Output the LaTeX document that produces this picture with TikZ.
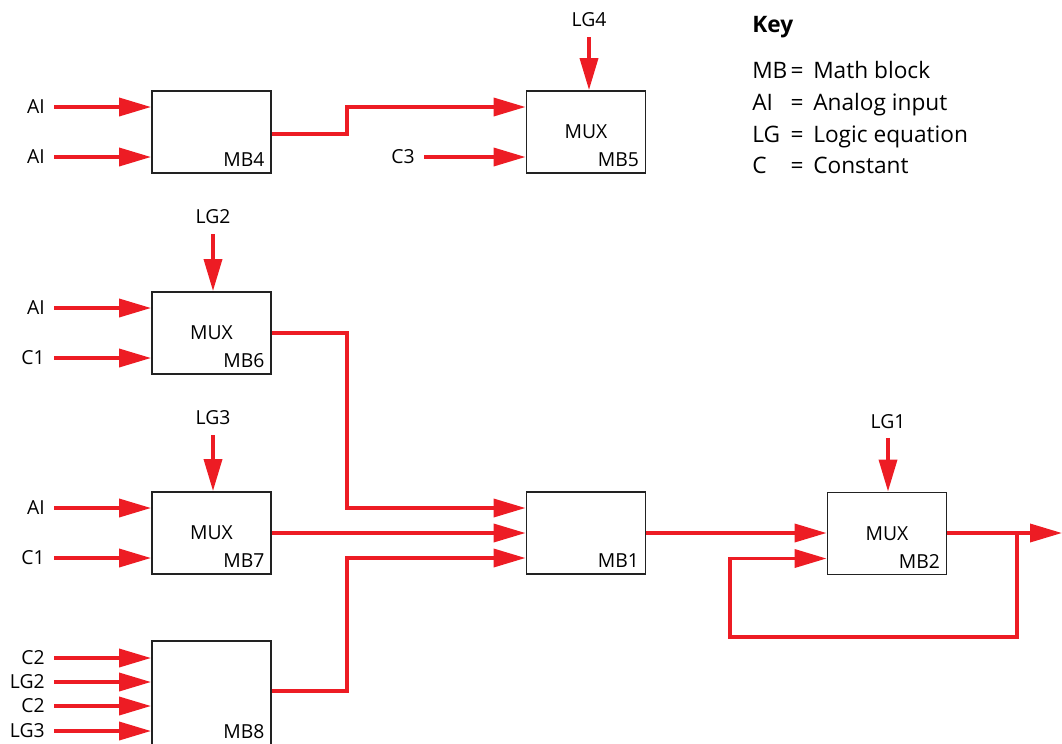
\documentclass[tikz,border=0pt]{standalone}
\usepackage{fontspec}
\setmainfont{Open Sans}
\usetikzlibrary{arrows.meta}
\definecolor{abbred}{HTML}{ED1C24}
\definecolor{boxgray}{HTML}{222222}
\tikzset{
  lbl/.style={font=\fontsize{14.5}{16}\selectfont, inner sep=0pt, text=black},
  blk/.style={draw=boxgray, line width=1.4pt, fill=white, minimum width=89.25pt, minimum height=61.5pt, inner sep=0pt, font=\fontsize{14.5}{16}\selectfont},
  wire/.style={draw=abbred, line width=2.7pt},
  arr/.style={wire, -{Triangle[length=24pt,width=13.5pt]}},
  sidelbl/.style={lbl, anchor=east},
  keyt/.style={font=\fontsize{17}{19}\selectfont, inner sep=0pt, anchor=base west},
  keyeq/.style={font=\fontsize{17}{19}\selectfont, inner sep=0pt, anchor=base},
}
\newcommand{\blkname}[2]{\node[lbl, anchor=base east] at ([xshift=-5.5pt,yshift=5.25pt]#1.south east) {#2};}
\begin{document}
\begin{tikzpicture}[x=0.75pt,y=-0.75pt]
\useasboundingbox (0,0) rectangle (1062,743);
% boxes
\node[blk] (mb4) at (211.5,132) {};
\node[blk] (mb5) at (586,132) {MUX};
\node[blk] (mb6) at (211.5,333) {MUX};
\node[blk] (mb7) at (211.5,533) {MUX};
\node[blk, minimum height=78pt] (mb8) at (211.5,693) {};
\node[blk] (mb1) at (586,533) {};
\node[blk] (mb2) at (887,533.5) {MUX};
\blkname{mb4}{MB4}
\blkname{mb5}{MB5}
\blkname{mb6}{MB6}
\blkname{mb7}{MB7}
\blkname{mb8}{MB8}
\blkname{mb1}{MB1}
\blkname{mb2}{MB2}
% side inputs
\node[sidelbl] (i41) at (45,107) {AI};
\node[sidelbl] (i42) at (45,157) {AI};
\node[sidelbl] (c3) at (415,157) {C3};
\node[sidelbl] (i61) at (45,308) {AI};
\node[sidelbl] (i62) at (45,358) {C1};
\node[sidelbl] (i71) at (45,508) {AI};
\node[sidelbl] (i72) at (45,558) {C1};
\node[sidelbl] (i81) at (45,658) {C2};
\node[sidelbl] (i82) at (45,682) {LG2};
\node[sidelbl] (i83) at (45,706) {C2};
\node[sidelbl] (i84) at (45,731) {LG3};
\foreach \n/\b in {i41/mb4,i42/mb4,c3/mb5,i61/mb6,i62/mb6,i71/mb7,i72/mb7,i81/mb8,i82/mb8,i83/mb8,i84/mb8}{
  \draw[arr] ([xshift=7pt]\n.east) -- (\n -| \b.west);
}
% top inputs
\node[lbl, anchor=base] (lg4) at (589,26) {LG4};
\node[lbl, anchor=base] (lg2) at (213,223) {LG2};
\node[lbl, anchor=base] (lg3) at (213,424) {LG3};
\node[lbl, anchor=base] (lg1) at (888,428) {LG1};
\draw[arr] ([yshift=-8pt]lg4.south) -- (lg4.south |- mb5.north);
\draw[arr] ([yshift=-8pt]lg2.south) -- (lg2.south |- mb6.north);
\draw[arr] ([yshift=-8pt]lg3.south) -- (lg3.south |- mb7.north);
\draw[arr] ([yshift=-7pt]lg1.south) -- (lg1.south |- mb2.north);
% connections
\draw[arr] ([yshift=-1.5pt]mb4.east) -- ++(75,0) |- ([yshift=18.75pt]mb5.west);
\draw[arr] (mb6.east) -- ++(75,0) |- ([yshift=18.75pt]mb1.west);
\draw[arr] (mb7.east) -- (mb1.west);
\draw[arr] ([yshift=1.5pt]mb8.east) -- ++(75,0) |- ([yshift=-18.75pt]mb1.west);
\draw[arr] (mb1.east) -- (mb1.east -| mb2.west);
\coordinate (out) at (1062,533);
\coordinate (br) at (1017,533);
\draw[arr] (mb2.east |- out) -- (out);
\draw[arr] (br) |- (730,637) |- ([yshift=-18.75pt]mb2.west);
% key
\node[keyt, font=\fontsize{17}{19}\bfseries\selectfont] (key) at (752,32) {Key};
\node[keyt] (k1) at (752,78) {MB};
\node[keyt] (k2) at (752,110) {AI};
\node[keyt] (k3) at (752,142) {LG};
\node[keyt] (k4) at (752,173) {C};
\foreach \y/\t/\n in {78/Math block/d1,110/Analog input/d2,142/Logic equation/d3,173/Constant/d4}{
  \node[keyeq] at (797,\y) {=};
  \node[keyt] (\n) at (813,\y) {\t};
}
\end{tikzpicture}
\end{document}
